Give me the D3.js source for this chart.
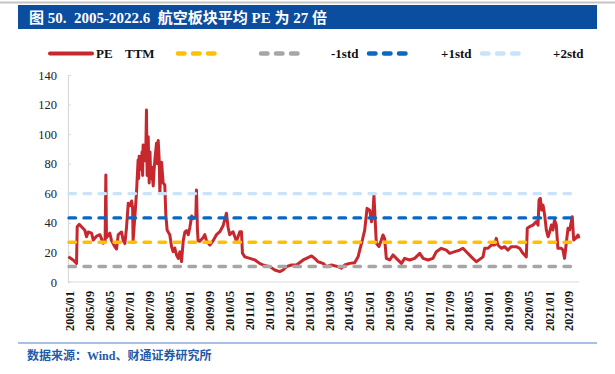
<!DOCTYPE html>
<html><head><meta charset="utf-8">
<script src="https://cdn.jsdelivr.net/npm/d3@7"></script>
<style>body{margin:0;background:#fff}svg{display:block}</style>
</head><body><svg id="c" width="615" height="374"></svg>
<script>
const dates = [
"2005-01-05","2005-03-05","2005-04-15","2005-04-23","2005-05-17","2005-07-25","2005-08-15","2005-09-05","2005-10-15","2005-11-05","2005-12-15",
"2006-01-25","2006-02-15","2006-03-05","2006-03-29","2006-04-07","2006-04-15","2006-05-25","2006-06-15","2006-07-25","2006-08-15","2006-09-05","2006-10-15","2006-11-05","2006-11-25","2006-12-15",
"2007-01-05","2007-01-25","2007-02-15","2007-02-27","2007-03-05","2007-03-25","2007-04-15","2007-05-05","2007-05-12","2007-05-18","2007-05-25","2007-06-15","2007-06-22","2007-06-29","2007-07-05","2007-07-25","2007-08-07","2007-08-15","2007-08-23","2007-09-05","2007-09-17","2007-09-27","2007-10-05","2007-10-15","2007-11-05","2007-11-15","2007-11-25","2007-12-15","2007-12-25",
"2008-01-05","2008-01-17","2008-01-25","2008-02-05","2008-02-15","2008-03-05","2008-03-25","2008-04-07","2008-04-23","2008-05-25","2008-06-15","2008-07-05","2008-07-25","2008-08-15","2008-09-05","2008-09-25","2008-10-15","2008-11-05","2008-11-25","2008-12-15",
"2009-01-05","2009-01-25","2009-02-15","2009-03-05","2009-03-25","2009-04-07","2009-04-15","2009-04-27","2009-05-05","2009-05-25","2009-07-05","2009-07-25","2009-08-15","2009-09-25","2009-11-05","2009-12-15",
"2010-01-25","2010-03-05","2010-04-15","2010-05-05","2010-05-25","2010-07-05","2010-08-15","2010-09-25","2010-10-15","2010-10-27","2010-11-25",
"2011-01-25","2011-03-25","2011-05-25","2011-07-05","2011-09-25","2011-11-25",
"2012-01-25","2012-03-05","2012-04-15","2012-06-15","2012-08-15","2012-11-05","2012-12-15",
"2013-02-15","2013-03-25","2013-05-05","2013-07-05","2013-08-15","2013-10-15",
"2014-01-05","2014-02-15","2014-03-25","2014-05-25","2014-07-25","2014-09-05","2014-09-25","2014-10-27","2014-11-25","2014-12-23",
"2015-01-25","2015-02-15","2015-03-05","2015-03-17","2015-03-29","2015-04-15","2015-05-17","2015-06-15","2015-07-05","2015-07-25","2015-08-15","2015-09-25","2015-11-05","2015-12-15",
"2016-02-15","2016-03-25","2016-05-25","2016-07-25","2016-09-25","2016-11-05",
"2017-01-05","2017-03-05","2017-04-15","2017-06-15","2017-08-15","2017-09-25","2017-11-25",
"2018-01-25","2018-03-05","2018-04-15","2018-06-15","2018-08-15","2018-09-25","2018-11-05","2018-11-25",
"2019-01-05","2019-02-15","2019-03-25","2019-04-15","2019-05-05","2019-06-15","2019-07-25","2019-09-05","2019-10-15","2019-12-15",
"2020-01-25","2020-03-05","2020-04-15","2020-04-27","2020-05-25","2020-07-05","2020-08-15","2020-09-05","2020-09-17","2020-10-03","2020-10-19","2020-11-05","2020-11-25","2020-12-15",
"2021-01-05","2021-01-25","2021-02-15","2021-03-05","2021-03-25","2021-04-15","2021-05-05","2021-06-15","2021-07-05","2021-07-25","2021-08-15","2021-09-05","2021-09-25","2021-10-15","2021-10-27","2021-11-13","2021-12-07",
"2022-01-05","2022-01-17"
];
const pe = [
17.1,14.9,12.6,37.4,39,35,30.6,33.8,33,28.4,31,
32,29,26.2,27,72.4,30,33,28,23.9,22.3,32,33.8,28,26,37,
53.2,51.6,54.8,50,28,43,60,82.5,70,85,78,76,88,72,92.7,82,90,116.3,72,98.3,67,88,70,78,65,75,82.5,93.8,80,
95.7,82.5,60,75,81,67,65.6,45,35,32,24,20.5,23,18.2,16,20.5,13.8,28,33.8,34.7,
32,37,44.6,42.8,43.7,44,62.2,35,28,27.5,30,32,28,25,28,32,
34,38,46.5,37,32,34,27.5,34,34,19.5,17,
16,15,12.6,11.5,10.4,8.1,
7,8.1,10.4,11.5,11.5,14.9,16,
17.6,16,13.7,12.6,10.4,11.5,
10.4,9.3,11.5,12.6,13,17,21.6,28.4,35.2,49.8,
48.5,40.8,46.9,58.8,45.1,26.2,24,28.4,31.8,29.5,16,14.9,18.3,16,
12.6,16,14.9,16,19.4,16,
14.9,16,20.5,22.8,21.6,19.4,20.5,
21.6,22.8,20.5,17,13.7,15.3,17,22.8,
22.8,25,25,29.5,25,22.8,23.9,21.6,23.9,23.9,
22.8,19.4,17,36.3,37.4,38.5,40.8,38.5,55.5,56.6,48.7,52,45.1,35.2,
30.6,34,38.5,35.2,41.9,38.5,22.8,22.8,21.6,16,26.2,36.3,35.2,40.8,44.2,28.4,29.5,
31.8,29.5
];
const refNames = ["均值", "-1std", "+1std", "+2std"];
const refValues = [26.9, 10.45, 43.35, 59.8];
const yTicks = [0, 20, 40, 60, 80, 100, 120, 140];
const xTickLabels = ["2005/01","2005/09","2006/05","2007/01","2007/09","2008/05","2009/01","2009/09","2010/05","2011/01","2011/09","2012/05","2013/01","2013/09","2014/05","2015/01","2015/09","2016/05","2017/01","2017/09","2018/05","2019/01","2019/09","2020/05","2021/01","2021/09"];
const legendLabels = ["PE", "TTM", "", "-1std", "+1std", "+2std"];
const titleText = "图 50.  2005-2022.6  航空板块平均 PE 为 27 倍";
const sourceText = "数据来源：Wind、财通证券研究所";

const refColors = ["#FFC000", "#A6A6A6", "#0868C4", "#C9E3FA"];
const peColor = "#C7282E";

const svg = d3.select("#c");
const parse = d3.timeParse("%Y-%m-%d");
const parseLabel = d3.timeParse("%Y/%m");
const data = dates.map((d, i) => ({date: parse(d), v: pe[i]}));

const x = d3.scaleTime().domain([parse("2005-01-01"), parse(dates[dates.length - 1])]).range([68, 579]);
const y = d3.scaleLinear().domain([0, 140]).range([282, 75]);

// top rule and title bar
svg.append("line").attr("x1", 0).attr("x2", 615).attr("y1", 2.5).attr("y2", 2.5)
  .attr("stroke", "#C4C4C4").attr("stroke-width", 2);
svg.append("rect").attr("x", 18).attr("y", 5).attr("width", 579).attr("height", 24).attr("fill", "#0B4D9F");
svg.append("text").attr("x", 29).attr("y", 23).text(titleText)
  .attr("fill", "#fff").attr("font-size", 15).attr("font-weight", "bold")
  .attr("font-family", "'Liberation Serif','Noto Sans CJK SC',serif")
  .attr("xml:space", "preserve").style("white-space", "pre");

// legend
const lg = svg.append("g").attr("font-family", "'Liberation Serif',serif").attr("font-weight", "bold").attr("font-size", 13).attr("fill", "#111");
const legY = 53.5;
lg.append("line").attr("x1", 50).attr("x2", 92).attr("y1", legY).attr("y2", legY).attr("stroke", peColor).attr("stroke-width", 4).attr("stroke-linecap", "round");
const legSym = [176, 259, 367, 480];
refColors.forEach((c, i) => {
  lg.append("line").attr("x1", legSym[i] + 2).attr("x2", legSym[i] + 40).attr("y1", legY).attr("y2", legY)
    .attr("stroke", c).attr("stroke-width", 4.5).attr("stroke-linecap", "round").attr("stroke-dasharray", "6.5,8.5");
});
const legTextX = [96, 125, 220, 331, 441, 553];
legendLabels.forEach((t, i) => {
  lg.append("text").attr("x", legTextX[i]).attr("y", legY).attr("dy", "0.35em").text(t);
});

// axes
svg.append("line").attr("x1", 68).attr("x2", 579).attr("y1", y(0)).attr("y2", y(0)).attr("stroke", "#D9D9D9").attr("stroke-width", 1.2);
const ya = svg.append("g").attr("transform", "translate(68,0)")
  .call(d3.axisLeft(y).tickValues(yTicks).tickSize(-3).tickPadding(11).tickFormat(d3.format("d")));
ya.select(".domain").attr("stroke", "#D9D9D9").attr("stroke-width", 1.2);
ya.selectAll(".tick line").attr("stroke", "#D9D9D9");
ya.selectAll("text").attr("font-family", "'Liberation Serif',serif").attr("font-size", 12.5).attr("fill", "#222");

const xa = svg.append("g");
xa.selectAll("text").data(xTickLabels).join("text")
  .attr("transform", d => `translate(${x(parseLabel(d)) + 1.5},291) rotate(-90)`)
  .attr("text-anchor", "end").attr("dy", "0.35em")
  .attr("font-family", "'Liberation Serif',serif").attr("font-weight", "bold").attr("font-size", 12.2).attr("fill", "#111")
  .text(d => d);

// PE line
const line = d3.line().x(d => x(d.date)).y(d => y(d.v)).curve(d3.curveLinear);
svg.append("path").datum(data).attr("d", line).attr("fill", "none")
  .attr("stroke", peColor).attr("stroke-width", 3).attr("stroke-linejoin", "round");

// reference lines
svg.append("g").selectAll("line").data(refValues).join("line")
  .attr("x1", 69).attr("x2", 579).attr("y1", d => y(d)).attr("y2", d => y(d))
  .attr("stroke", (d, i) => refColors[i]).attr("stroke-width", 3.4).attr("stroke-linecap", "round")
  .attr("stroke-dasharray", "6.5,8.5")
  .append("title").text((d, i) => refNames[i]);

// bottom rule + source
svg.append("line").attr("x1", 18).attr("x2", 597).attr("y1", 343).attr("y2", 343).attr("stroke", "#8EAADB").attr("stroke-width", 1.5);
svg.append("text").attr("x", 27).attr("y", 360).text(sourceText)
  .attr("fill", "#1F5BA8").attr("font-size", 12).attr("font-weight", "bold")
  .attr("font-family", "'Liberation Serif','Noto Sans CJK SC',serif");
</script></body></html>
